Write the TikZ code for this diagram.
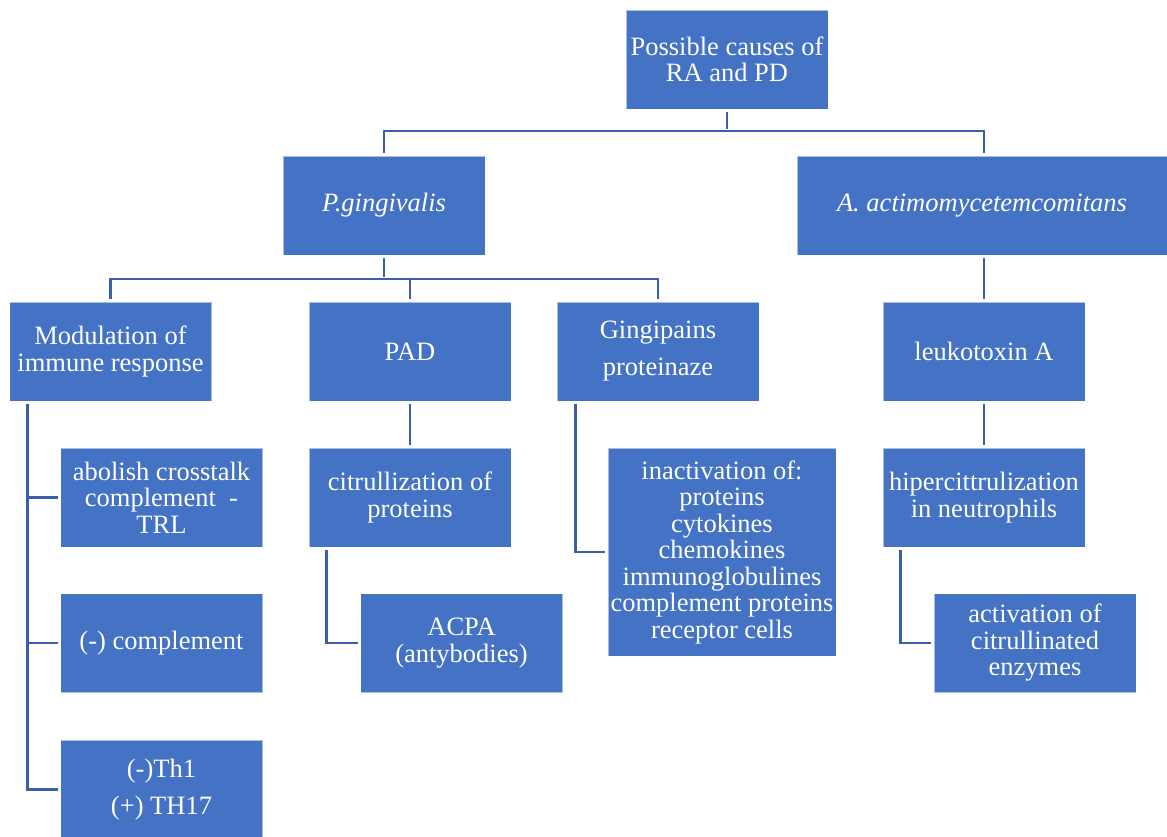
\documentclass[tikz,border=0pt]{standalone}
\usepackage{fontspec}
\setmainfont{Liberation Serif}
\definecolor{boxblue}{HTML}{4472C4}
\definecolor{lineblue}{HTML}{3A5FA8}
\begin{document}
\begin{tikzpicture}[x=1pt,y=-1pt,
  box/.style={fill=boxblue, draw=white, draw opacity=0.55, line width=0.8pt,
    text=white, align=center, inner sep=2pt,
    minimum width=202pt, minimum height=99pt,
    font=\fontsize{26.5}{26.5}\selectfont},
  conn/.style={draw=lineblue, line width=2.9pt, shorten <=3pt, shorten >=2.5pt}]
\useasboundingbox (0,0) rectangle (1167,836);
% boxes
\node[box] (top) at (727,59.5) {Possible causes of\\RA and PD};
\node[box] (pg) at (384,205.5) {\itshape P.gingivalis};
\node[box, minimum width=370pt] (aa) at (982,205.5) {\itshape A. actimomycetemcomitans};
\node[box] (mod) at (110.5,351.5) {Modulation of\\immune response};
\node[box] (pad) at (410,351.5) {PAD};
\node[box] (gg) at (658,351.5) {Gingipains\\[10.5pt]proteinaze};
\node[box] (lk) at (984,351.5) {leukotoxin A};
\node[box] (ab) at (161.5,497.5) {abolish crosstalk\\complement\ \ -\\TRL};
\node[box] (cm) at (161.5,643) {(-) complement};
\node[box] (th) at (161.5,789.5) {(-)Th1\\[10.5pt](+) TH17};
\node[box] (cit) at (410,497.5) {citrullization of\\proteins};
\node[box] (acpa) at (461.5,643) {ACPA\\(antybodies)};
\node[box, minimum width=228pt, minimum height=208pt] (inact) at (722,552)
  {inactivation of:\\proteins\\cytokines\\chemokines\\immunoglobulines\\complement proteins\\receptor cells};
\node[box] (hip) at (984,497.5) {hipercittrulization\\in neutrophils};
\node[box] (act) at (1035,643) {activation of\\citrullinated\\enzymes};
% junctions
\coordinate (j1) at (727,131);
\coordinate (j2) at (384,279);
% connectors
\draw[conn] (top.south) -- (j1);
\draw[conn, shorten <=0pt] (j1) -| (pg.north);
\draw[conn, shorten <=0pt] (j1) -| (lk.north |- aa.north);
\draw[conn] (pg.south) -- (j2);
\draw[conn, shorten <=0pt] (j2) -| (mod.north);
\draw[conn, shorten <=0pt] (j2) -| (pad.north);
\draw[conn, shorten <=0pt] (j2) -| (gg.north);
\draw[conn] (lk.north |- aa.south) -- (lk.north);
\draw[conn] (mod.south west) ++(18,0) |- (ab.west);
\draw[conn] (mod.south west) ++(18,0) |- (cm.west);
\draw[conn] (mod.south west) ++(18,0) |- (th.west);
\draw[conn] (pad.south) -- (cit.north);
\draw[conn] (cit.south west) ++(18,0) |- (acpa.west);
\draw[conn] (gg.south west) ++(19,0) |- (inact.west);
\draw[conn] (lk.south) -- (hip.north);
\draw[conn] (hip.south west) ++(18,0) |- (act.west);
\end{tikzpicture}
\end{document}
